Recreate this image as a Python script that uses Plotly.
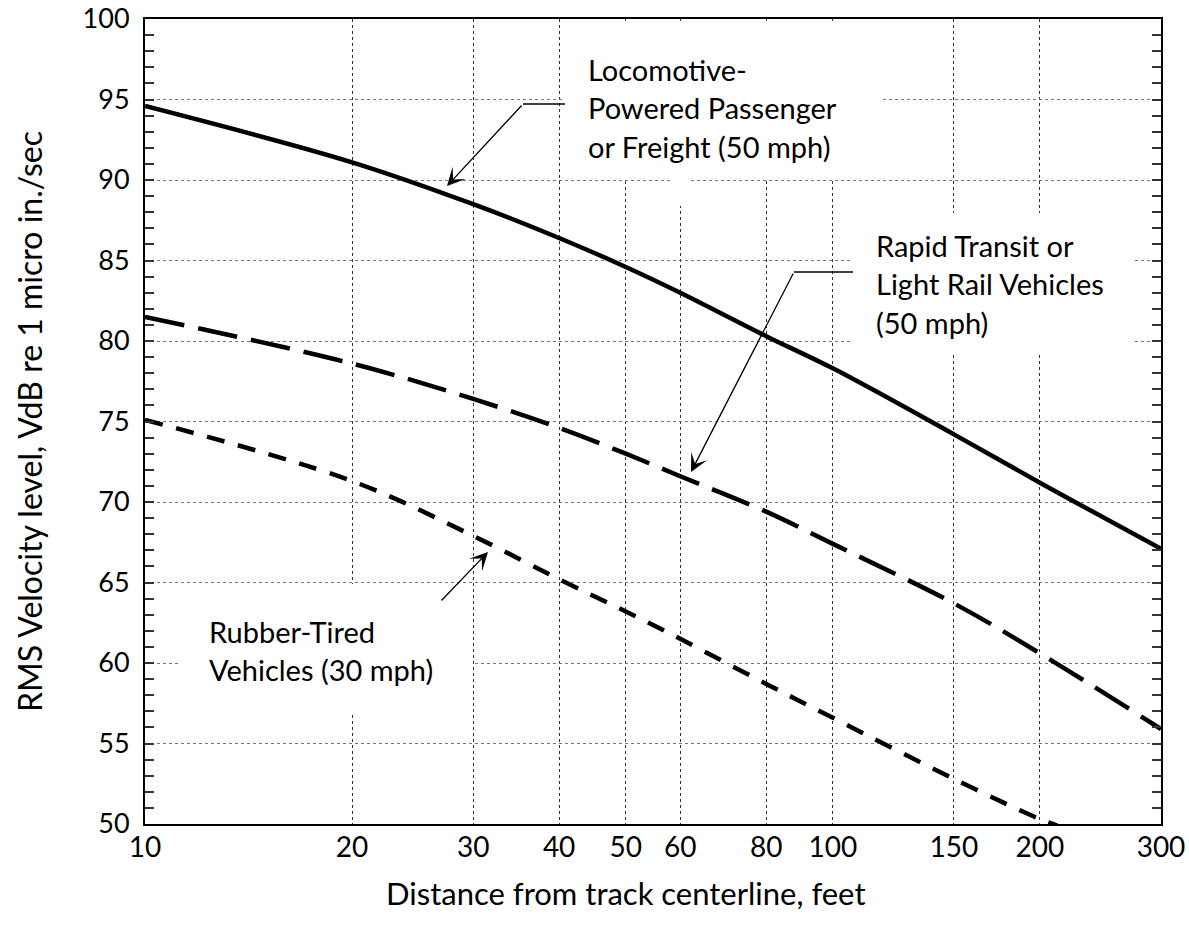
import plotly.graph_objects as go
import math

# ---- data ----
distance = [10, 20, 30, 40, 50, 60, 80, 100, 150, 200, 300]
loco_vdb = [94.6, 91.1, 88.5, 86.4, 84.6, 83.0, 80.3, 78.3, 74.2, 71.2, 67.1]
rapid_vdb = [81.5, 78.6, 76.4, 74.6, 73.0, 71.6, 69.4, 67.4, 63.7, 60.6, 55.9]
rubber_distance = [10, 20, 30, 40, 50, 60, 80, 100, 150, 200, 212]
rubber_vdb = [75.1, 71.3, 67.9, 65.2, 63.2, 61.5, 58.7, 56.6, 52.8, 50.3, 49.9]

x_ticks = [10, 20, 30, 40, 50, 60, 80, 100, 150, 200, 300]
x_tick_text = [str(v) for v in x_ticks]
y_ticks = list(range(50, 101, 5))

loco_label = ["Locomotive-", "Powered Passenger", "or Freight (50 mph)"]
rapid_label = ["Rapid Transit or", "Light Rail Vehicles", "(50 mph)"]
rubber_label = ["Rubber-Tired", "Vehicles (30 mph)"]
x_title = "Distance from track centerline, feet"
y_title = "RMS Velocity level, VdB re 1 micro in./sec"

# ---- layout geometry (pixels) ----
W, H = 1189, 928
L, R, T, B = 145, 28, 19, 104
PW, PH = W - L - R, H - T - B
FONT = "Lato"


def px(x):
    return (x - L) / PW


def py(y):
    return (T + PH - y) / PH


fig = go.Figure()

line_w = 4.5
fig.add_trace(go.Scatter(x=distance, y=loco_vdb, mode="lines",
                         line=dict(color="black", width=line_w, shape="spline"),
                         showlegend=False, hoverinfo="skip"))
fig.add_trace(go.Scatter(x=distance, y=rapid_vdb, mode="lines",
                         line=dict(color="black", width=line_w, shape="spline",
                                   dash="40px,14px"),
                         showlegend=False, hoverinfo="skip"))
fig.add_trace(go.Scatter(x=rubber_distance, y=rubber_vdb, mode="lines",
                         line=dict(color="black", width=line_w, shape="spline",
                                   dash="18px,14px"),
                         showlegend=False, hoverinfo="skip"))

shapes = []
# white boxes behind labels (hide grid)
for (x0, y0, x1, y1) in [(565, 21, 880, 178), (670, 180, 690, 206),
                         (853, 213, 1135, 355), (180, 584, 472, 712)]:
    shapes.append(dict(type="rect", xref="paper", yref="paper",
                       x0=px(x0), x1=px(x1), y0=py(y1), y1=py(y0),
                       fillcolor="white", line=dict(width=0), layer="above"))
# horizontal leader segments
for (x0, x1, y) in [(523, 565, 104), (794, 853, 272)]:
    shapes.append(dict(type="line", xref="paper", yref="paper",
                       x0=px(x0), x1=px(x1), y0=py(y), y1=py(y),
                       line=dict(color="black", width=1.3), layer="above"))

annotations = []
# arrows: (tip_x, tip_y, tail_x, tail_y)
for (tx, ty, sx, sy) in [(447, 186, 523, 104), (691, 472, 794, 272),
                         (488, 552, 440, 602)]:
    annotations.append(dict(xref="paper", yref="paper", x=px(tx), y=py(ty),
                            ax=sx - tx, ay=sy - ty, axref="pixel", ayref="pixel",
                            text="", showarrow=True, arrowhead=3, arrowsize=2.3,
                            arrowwidth=1.3, arrowcolor="black", standoff=0,
                            startstandoff=0))

lab_size = 29


def add_lines(lines, left, first_base, spacing=38.6):
    for i, t in enumerate(lines):
        base = first_base + i * spacing
        annotations.append(dict(xref="paper", yref="paper", x=px(left),
                                y=py(base - 10), xanchor="left", yanchor="middle",
                                text=t, showarrow=False,
                                font=dict(family=FONT, size=lab_size, color="black")))


add_lines(loco_label, 586, 79)
add_lines(rapid_label, 874, 255)
add_lines(rubber_label, 207, 641)

annotations.append(dict(xref="paper", yref="paper", x=px(626), y=py(893),
                        xanchor="center", yanchor="middle", text=x_title,
                        showarrow=False,
                        font=dict(family=FONT, size=31, color="black")))
annotations.append(dict(xref="paper", yref="paper", x=px(29), y=py(422),
                        xanchor="center", yanchor="middle", text=y_title,
                        textangle=-90, showarrow=False,
                        font=dict(family=FONT, size=32, color="black")))

fig.update_layout(
    width=W, height=H,
    margin=dict(l=L, r=R, t=T, b=B, autoexpand=False),
    paper_bgcolor="white", plot_bgcolor="white",
    font=dict(family=FONT, size=27, color="black"),
    shapes=shapes, annotations=annotations,
    showlegend=False,
)
fig.update_xaxes(type="log", range=[1, math.log10(300)],
                 tickvals=x_ticks, ticktext=x_tick_text,
                 showgrid=True, gridcolor="#333333", griddash="dot", gridwidth=1,
                 showline=True, linecolor="black", linewidth=2, mirror=True,
                 ticks="", ticklabelstandoff=-3, ticklabeloverflow="allow",
                 tickfont=dict(family=FONT, size=28, color="black"),
                 zeroline=False)
fig.update_yaxes(range=[50, 100], tickvals=y_ticks,
                 showgrid=True, gridcolor="#777777", griddash="dot", gridwidth=1,
                 showline=True, linecolor="black", linewidth=2, mirror="allticks",
                 ticks="inside", ticklen=9, tickwidth=1.5, tickcolor="#333333",
                 minor=dict(dtick=1, ticks="inside", ticklen=9, tickwidth=1.5,
                            tickcolor="#333333", showgrid=False),
                 ticklabelstandoff=8, ticklabeloverflow="allow",
                 tickfont=dict(family=FONT, size=27, color="black"),
                 zeroline=False)

fig.write_html("out.html", config={"displayModeBar": False},
               post_script="document.body.style.margin='0';")
